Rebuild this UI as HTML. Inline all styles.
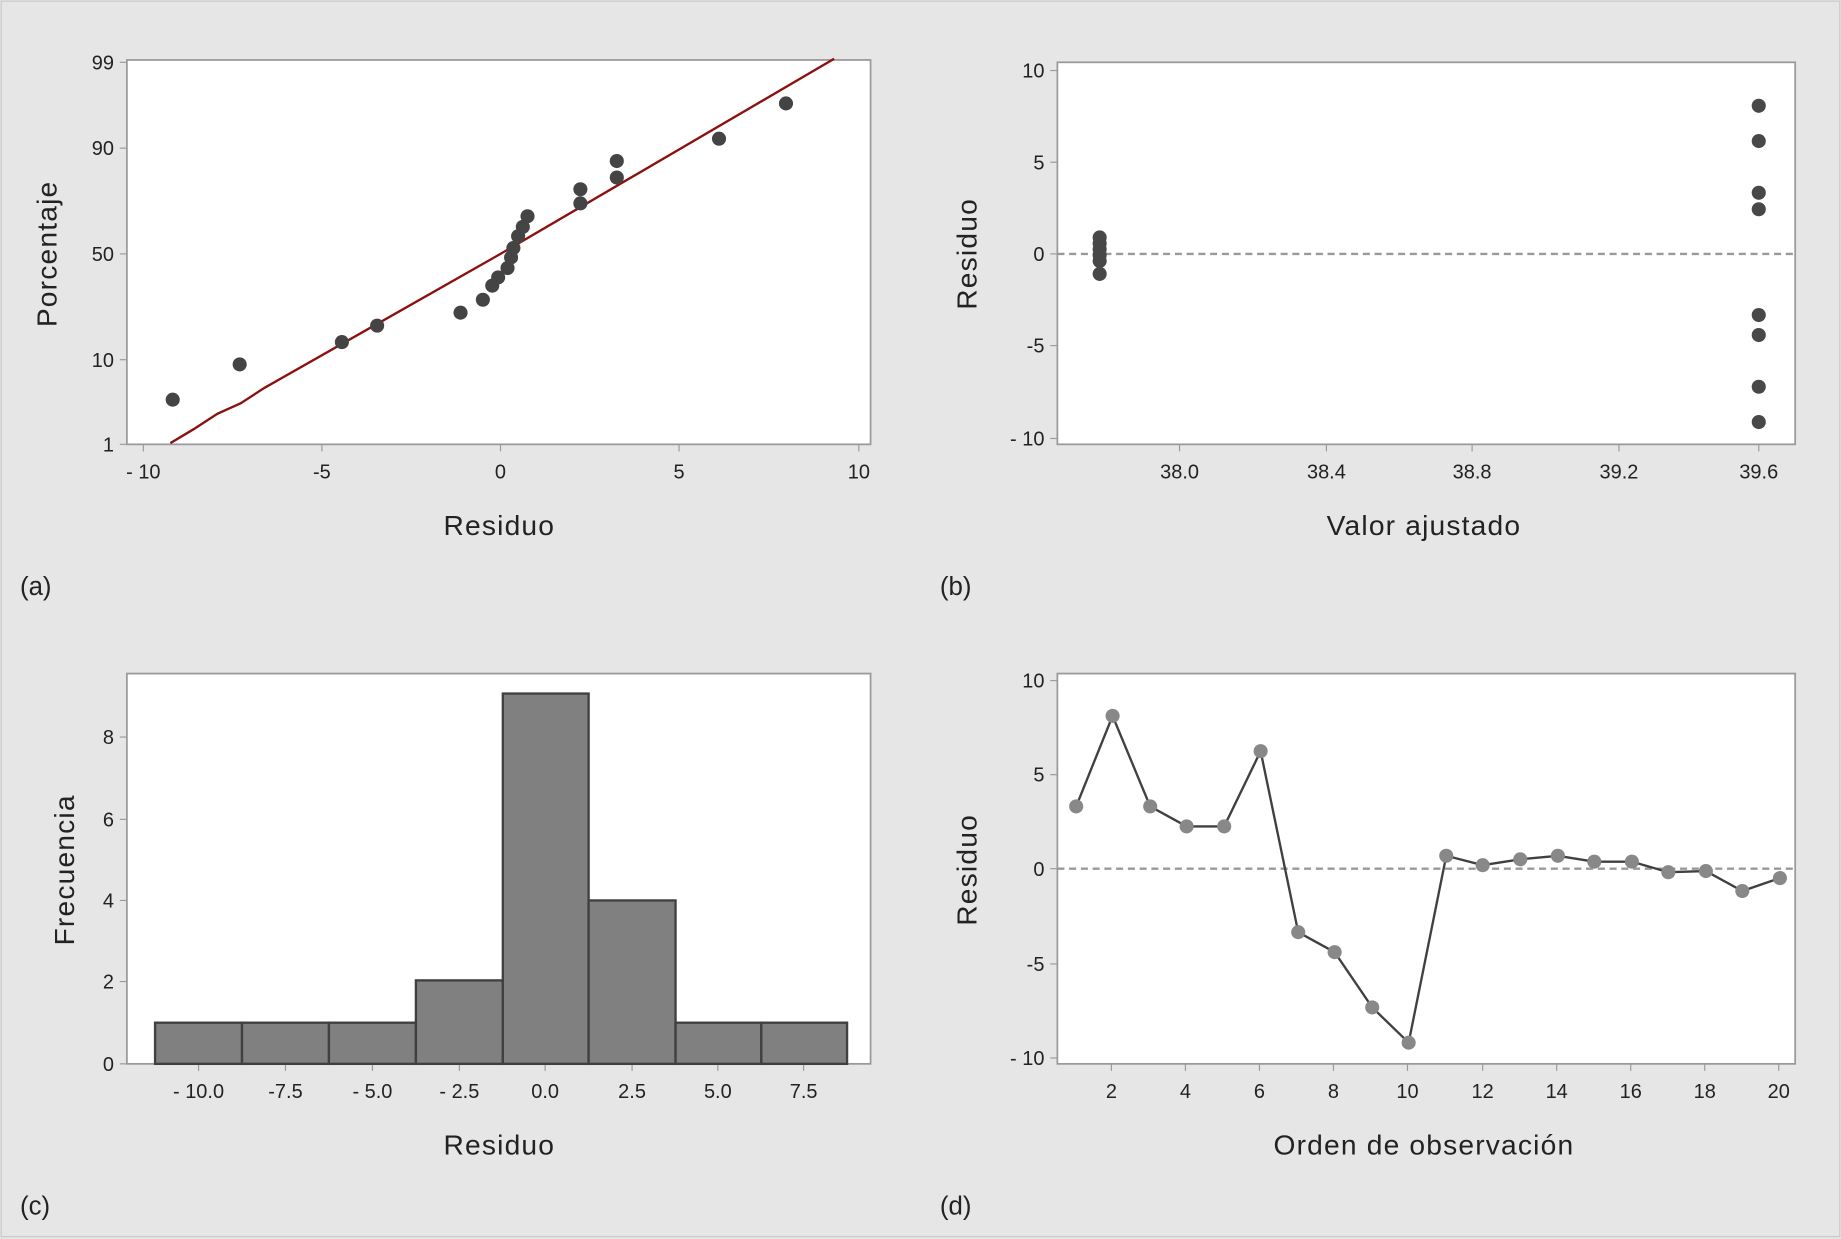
<!DOCTYPE html>
<html><head><meta charset="utf-8"><style>
html,body{margin:0;padding:0;background:#e6e6e6;}
svg{display:block;}
text{font-family:"Liberation Sans",sans-serif;fill:#222;}
.t{font-size:17px;}
.ti{font-size:24px;letter-spacing:1px;}
.lb{font-size:22px;}
</style></head><body>
<svg width="1841" height="1239" viewBox="0 0 1567 1054" preserveAspectRatio="none" xmlns="http://www.w3.org/2000/svg">
<rect x="0" y="0" width="1567" height="1054" fill="#e6e6e6"/>
<rect x="1" y="1" width="1565" height="1051" fill="none" stroke="#c8c8c8"/>
<!-- Panel a -->
<rect x="108" y="51" width="633" height="327" fill="#fff" stroke="#9a9a9a" stroke-width="1.5"/>
<g stroke="#9a9a9a">
<line x1="102" y1="53" x2="108" y2="53"/><line x1="102" y1="126" x2="108" y2="126"/><line x1="102" y1="216" x2="108" y2="216"/><line x1="102" y1="306" x2="108" y2="306"/><line x1="102" y1="378" x2="108" y2="378"/>
<line x1="122" y1="378" x2="122" y2="384"/><line x1="274" y1="378" x2="274" y2="384"/><line x1="426" y1="378" x2="426" y2="384"/><line x1="578" y1="378" x2="578" y2="384"/><line x1="731" y1="378" x2="731" y2="384"/>
</g>
<g class="t" text-anchor="end"><text x="97" y="59">99</text><text x="97" y="132">90</text><text x="97" y="222">50</text><text x="97" y="312">10</text><text x="97" y="384">1</text></g>
<g class="t" text-anchor="middle"><text x="122" y="407">- 10</text><text x="274" y="407">-5</text><text x="426" y="407">0</text><text x="578" y="407">5</text><text x="731" y="407">10</text></g>
<text class="ti" x="425" y="455" text-anchor="middle">Residuo</text>
<text class="ti" transform="translate(48,216) rotate(-90)" text-anchor="middle">Porcentaje</text>
<polyline points="145,377 165,365 185,352 205,343 225,330 426,216 710,50" fill="none" stroke="#8b1010" stroke-width="2"/>
<g fill="#444">
<circle cx="147" cy="340" r="6"/><circle cx="204" cy="310" r="6"/><circle cx="291" cy="291" r="6"/><circle cx="321" cy="277" r="6"/><circle cx="392" cy="266" r="6"/><circle cx="411" cy="255" r="6"/><circle cx="419" cy="243" r="6"/><circle cx="424" cy="236" r="6"/><circle cx="432" cy="228" r="6"/><circle cx="435" cy="219" r="6"/><circle cx="437" cy="211" r="6"/><circle cx="441" cy="201" r="6"/><circle cx="445" cy="193" r="6"/><circle cx="449" cy="184" r="6"/><circle cx="494" cy="161" r="6"/><circle cx="494" cy="173" r="6"/><circle cx="525" cy="137" r="6"/><circle cx="525" cy="151" r="6"/><circle cx="612" cy="118" r="6"/><circle cx="669" cy="88" r="6"/>
</g>
<text class="lb" x="17" y="506">(a)</text>
<!-- Panel b -->
<rect x="900" y="53" width="628" height="325" fill="#fff" stroke="#9a9a9a" stroke-width="1.5"/>
<g stroke="#9a9a9a">
<line x1="894" y1="60" x2="900" y2="60"/><line x1="894" y1="138" x2="900" y2="138"/><line x1="894" y1="216" x2="900" y2="216"/><line x1="894" y1="294" x2="900" y2="294"/><line x1="894" y1="373" x2="900" y2="373"/>
<line x1="1004" y1="378" x2="1004" y2="384"/><line x1="1129" y1="378" x2="1129" y2="384"/><line x1="1253" y1="378" x2="1253" y2="384"/><line x1="1378" y1="378" x2="1378" y2="384"/><line x1="1497" y1="378" x2="1497" y2="384"/>
</g>
<g class="t" text-anchor="end"><text x="889" y="66">10</text><text x="889" y="144">5</text><text x="889" y="222">0</text><text x="889" y="300">-5</text><text x="889" y="379">- 10</text></g>
<g class="t" text-anchor="middle"><text x="1004" y="407">38.0</text><text x="1129" y="407">38.4</text><text x="1253" y="407">38.8</text><text x="1378" y="407">39.2</text><text x="1497" y="407">39.6</text></g>
<text class="ti" x="1212" y="455" text-anchor="middle">Valor ajustado</text>
<text class="ti" transform="translate(831,216) rotate(-90)" text-anchor="middle">Residuo</text>
<line x1="900" y1="216" x2="1528" y2="216" stroke="#999" stroke-width="2" stroke-dasharray="6,4"/>
<g fill="#484848">
<circle cx="936" cy="202" r="6"/><circle cx="936" cy="207" r="6"/><circle cx="936" cy="212" r="6"/><circle cx="936" cy="217" r="6"/><circle cx="936" cy="222" r="6"/><circle cx="936" cy="233" r="6"/>
<circle cx="1497" cy="90" r="6"/><circle cx="1497" cy="120" r="6"/><circle cx="1497" cy="164" r="6"/><circle cx="1497" cy="178" r="6"/><circle cx="1497" cy="268" r="6"/><circle cx="1497" cy="285" r="6"/><circle cx="1497" cy="329" r="6"/><circle cx="1497" cy="359" r="6"/>
</g>
<text class="lb" x="800" y="506">(b)</text>
<!-- Panel c -->
<rect x="108" y="573" width="633" height="332" fill="#fff" stroke="#9a9a9a" stroke-width="1.5"/>
<g stroke="#9a9a9a">
<line x1="102" y1="905" x2="108" y2="905"/><line x1="102" y1="835" x2="108" y2="835"/><line x1="102" y1="766" x2="108" y2="766"/><line x1="102" y1="697" x2="108" y2="697"/><line x1="102" y1="627" x2="108" y2="627"/>
<line x1="169" y1="905" x2="169" y2="911"/><line x1="243" y1="905" x2="243" y2="911"/><line x1="317" y1="905" x2="317" y2="911"/><line x1="391" y1="905" x2="391" y2="911"/><line x1="464" y1="905" x2="464" y2="911"/><line x1="538" y1="905" x2="538" y2="911"/><line x1="611" y1="905" x2="611" y2="911"/><line x1="684" y1="905" x2="684" y2="911"/>
</g>
<g class="t" text-anchor="end"><text x="97" y="911">0</text><text x="97" y="841">2</text><text x="97" y="772">4</text><text x="97" y="703">6</text><text x="97" y="633">8</text></g>
<g class="t" text-anchor="middle"><text x="169" y="934">- 10.0</text><text x="243" y="934">-7.5</text><text x="317" y="934">- 5.0</text><text x="391" y="934">- 2.5</text><text x="464" y="934">0.0</text><text x="538" y="934">2.5</text><text x="611" y="934">5.0</text><text x="684" y="934">7.5</text></g>
<text class="ti" x="425" y="982" text-anchor="middle">Residuo</text>
<text class="ti" transform="translate(63,740) rotate(-90)" text-anchor="middle">Frecuencia</text>
<g fill="#808080" stroke="#404040" stroke-width="2">
<rect x="132" y="870" width="74" height="35"/><rect x="206" y="870" width="74" height="35"/><rect x="280" y="870" width="74" height="35"/><rect x="354" y="834" width="74" height="71"/><rect x="428" y="590" width="73" height="315"/><rect x="501" y="766" width="74" height="139"/><rect x="575" y="870" width="73" height="35"/><rect x="648" y="870" width="73" height="35"/>
</g>
<text class="lb" x="17" y="1033">(c)</text>
<!-- Panel d -->
<rect x="900" y="573" width="628" height="332" fill="#fff" stroke="#9a9a9a" stroke-width="1.5"/>
<g stroke="#9a9a9a">
<line x1="894" y1="579" x2="900" y2="579"/><line x1="894" y1="659" x2="900" y2="659"/><line x1="894" y1="739" x2="900" y2="739"/><line x1="894" y1="820" x2="900" y2="820"/><line x1="894" y1="900" x2="900" y2="900"/>
<line x1="946" y1="905" x2="946" y2="911"/><line x1="1009" y1="905" x2="1009" y2="911"/><line x1="1072" y1="905" x2="1072" y2="911"/><line x1="1135" y1="905" x2="1135" y2="911"/><line x1="1198" y1="905" x2="1198" y2="911"/><line x1="1262" y1="905" x2="1262" y2="911"/><line x1="1325" y1="905" x2="1325" y2="911"/><line x1="1388" y1="905" x2="1388" y2="911"/><line x1="1451" y1="905" x2="1451" y2="911"/><line x1="1514" y1="905" x2="1514" y2="911"/>
</g>
<g class="t" text-anchor="end"><text x="889" y="585">10</text><text x="889" y="665">5</text><text x="889" y="745">0</text><text x="889" y="826">-5</text><text x="889" y="906">- 10</text></g>
<g class="t" text-anchor="middle"><text x="946" y="934">2</text><text x="1009" y="934">4</text><text x="1072" y="934">6</text><text x="1135" y="934">8</text><text x="1198" y="934">10</text><text x="1262" y="934">12</text><text x="1325" y="934">14</text><text x="1388" y="934">16</text><text x="1451" y="934">18</text><text x="1514" y="934">20</text></g>
<text class="ti" x="1212" y="982" text-anchor="middle">Orden de observación</text>
<text class="ti" transform="translate(831,740) rotate(-90)" text-anchor="middle">Residuo</text>
<line x1="900" y1="739" x2="1528" y2="739" stroke="#999" stroke-width="2" stroke-dasharray="6,4"/>
<polyline fill="none" stroke="#404040" stroke-width="2" points="916,686 947,609 979,686 1010,703 1042,703 1073,639 1105,793 1136,810 1168,857 1199,887 1231,728 1262,736 1294,731 1326,728 1357,733 1389,733 1420,742 1452,741 1483,758 1515,747"/>
<g fill="#888">
<circle cx="916" cy="686" r="6"/><circle cx="947" cy="609" r="6"/><circle cx="979" cy="686" r="6"/><circle cx="1010" cy="703" r="6"/><circle cx="1042" cy="703" r="6"/><circle cx="1073" cy="639" r="6"/><circle cx="1105" cy="793" r="6"/><circle cx="1136" cy="810" r="6"/><circle cx="1168" cy="857" r="6"/><circle cx="1199" cy="887" r="6"/><circle cx="1231" cy="728" r="6"/><circle cx="1262" cy="736" r="6"/><circle cx="1294" cy="731" r="6"/><circle cx="1326" cy="728" r="6"/><circle cx="1357" cy="733" r="6"/><circle cx="1389" cy="733" r="6"/><circle cx="1420" cy="742" r="6"/><circle cx="1452" cy="741" r="6"/><circle cx="1483" cy="758" r="6"/><circle cx="1515" cy="747" r="6"/>
</g>
<text class="lb" x="800" y="1033">(d)</text>
</svg>
</body></html>
